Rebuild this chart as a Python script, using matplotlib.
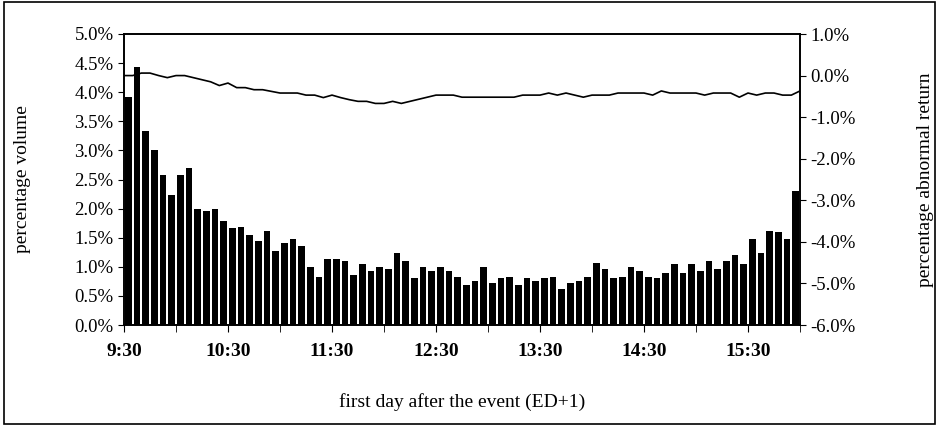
import numpy as np
import matplotlib
matplotlib.use("Agg")
import matplotlib.pyplot as plt
from matplotlib.ticker import FuncFormatter, MultipleLocator

plt.rcParams['font.family'] = ['Liberation Serif', 'DejaVu Serif']

# percentage volume per 5-minute interval, 9:30-16:00
volume = [3.92, 4.44, 3.34, 3.0, 2.58, 2.24, 2.58, 2.69, 2.0, 1.96, 2.0, 1.79, 1.66, 1.69,
          1.55, 1.45, 1.62, 1.28, 1.41, 1.48, 1.35, 1.0, 0.83, 1.14, 1.14, 1.1, 0.86, 1.04,
          0.93, 1.0, 0.97, 1.24, 1.1, 0.8, 1.0, 0.93, 1.0, 0.93, 0.83, 0.69, 0.76, 1.0,
          0.73, 0.8, 0.83, 0.69, 0.8, 0.76, 0.8, 0.83, 0.62, 0.73, 0.76, 0.83, 1.07, 0.97,
          0.8, 0.83, 1.0, 0.93, 0.83, 0.8, 0.9, 1.04, 0.9, 1.04, 0.93, 1.1, 0.97, 1.1,
          1.21, 1.04, 1.48, 1.24, 1.62, 1.59, 1.48, 2.31]

# cumulative abnormal return (%), at interval boundaries
abn_return = [0.0, 0.0, 0.06, 0.06, 0.0, -0.05, 0.0, 0.0, -0.05, -0.1, -0.15, -0.24, -0.18,
              -0.29, -0.29, -0.34, -0.34, -0.38, -0.42, -0.42, -0.42, -0.47, -0.47, -0.53,
              -0.47, -0.53, -0.58, -0.62, -0.62, -0.67, -0.67, -0.62, -0.67, -0.62, -0.57,
              -0.52, -0.47, -0.47, -0.47, -0.52, -0.52,
              -0.52, -0.52, -0.52, -0.52, -0.52, -0.47, -0.47, -0.47, -0.42, -0.47, -0.42,
              -0.47, -0.52, -0.47, -0.47, -0.47, -0.42, -0.42, -0.42, -0.42, -0.47, -0.37,
              -0.42, -0.42, -0.42, -0.42, -0.47, -0.42, -0.42, -0.42, -0.52, -0.42, -0.47,
              -0.42, -0.42, -0.47, -0.47, -0.37]

hour_labels = ['9:30', '10:30', '11:30', '12:30', '13:30', '14:30', '15:30']

fig = plt.figure(figsize=(9.39, 4.26), dpi=100)
fig.patches.append(plt.Rectangle((0.004, 0.005), 0.992, 0.99, transform=fig.transFigure,
                                 fill=False, edgecolor='black', linewidth=1.2))
ax = fig.add_axes([124 / 939, 1 - 325 / 426, 676 / 939, 291 / 426])

n = len(volume)
x = np.arange(n) + 0.5
ax.bar(x, volume, width=0.78, color='black')
ax.set_xlim(0, n)
ax.set_ylim(0, 5)
ax.yaxis.set_major_locator(MultipleLocator(0.5))
ax.yaxis.set_major_formatter(FuncFormatter(lambda v, p: f"{v:.1f}%"))
ax.set_xticks(np.arange(0, n, 12))
ax.set_xticklabels(hour_labels, fontweight='bold')
ax.set_xticks(np.arange(6, n + 1, 12), minor=True)
ax.tick_params(axis='x', which='both', direction='out', length=5, labelsize=14, pad=8)
ax.tick_params(axis='y', direction='out', length=4, labelsize=13.5)
ax.set_ylabel('percentage volume', fontsize=14, labelpad=31)
ax.set_xlabel('first day after the event (ED+1)', fontsize=14, labelpad=24)

ax2 = ax.twinx()
xl = np.linspace(0, n, len(abn_return))
ax2.plot(xl, abn_return, color='black', linewidth=1.2)
ax2.set_ylim(-6, 1)
ax2.yaxis.set_major_locator(MultipleLocator(1))
ax2.yaxis.set_major_formatter(FuncFormatter(lambda v, p: f"{v:.1f}%"))
ax2.tick_params(axis='y', direction='out', length=4, labelsize=13.5)
ax2.set_ylabel('percentage abnormal return', fontsize=14, labelpad=44)

for a in (ax, ax2):
    for s in a.spines.values():
        s.set_linewidth(1.2)

fig.savefig('out.png', dpi=100)
